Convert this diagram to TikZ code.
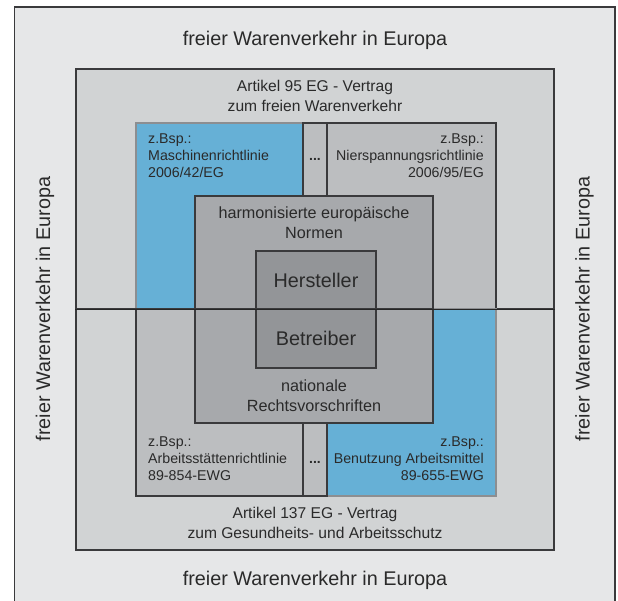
\documentclass[tikz,border=0pt]{standalone}
\usepackage{fontspec}
\setmainfont{Liberation Sans}
\definecolor{rand}{HTML}{3A3A3C}
\definecolor{blaurand}{HTML}{8C8E91}
\definecolor{hellgrau}{HTML}{E6E7E8}
\definecolor{grau1}{HTML}{D1D3D4}
\definecolor{grau2}{HTML}{BCBEC0}
\definecolor{grau3}{HTML}{A7A9AC}
\definecolor{grau4}{HTML}{939598}
\definecolor{blau}{HTML}{66B0D6}
\definecolor{tinte}{HTML}{2A2A2A}

\begin{document}
\begin{tikzpicture}
      [   x=1pt,y=-1pt,
          feld/.style={draw=rand,fill=#1,line width=1.1pt,rectangle,inner sep=0pt},
          blaufeld/.style={feld=blau,draw=blaurand},
          schrift/.style 2 args={text=tinte,inner sep=0pt,font=\fontsize{#1}{#2}\selectfont},
          trenn/.style={draw=black!85,line width=1.3pt},
      ]
          \useasboundingbox (0,0) rectangle (618,601);
          % Rahmen von aussen nach innen
          \node[feld=hellgrau,line width=1.4pt,minimum width=600.5pt,minimum height=620pt] (europa) at (314.75,317) {};
          \node[feld=grau1,minimum width=478pt,minimum height=240pt] (art95) at (315,189) {};
          \node[feld=grau1,minimum width=478pt,minimum height=241pt] (art137) at (315,429.5) {};
          \node[blaufeld,minimum width=167pt,minimum height=186pt] (maschinen) at (219.5,216) {};
          \node[feld=grau2,minimum width=169pt,minimum height=186pt] (nsp) at (411.5,216) {};
          \node[feld=grau2,minimum width=167pt,minimum height=187pt] (arbst) at (219.5,402.5) {};
          \node[blaufeld,minimum width=169pt,minimum height=187pt] (arbmittel) at (411.5,402.5) {};
          \foreach \y/\h/\p [count=\i] in {216/186/159,402.5/187/462}
          {   \node[feld=grau2,minimum width=24pt,minimum height=\h pt] (luecke-\i) at (315,\y) {};
              \node[schrift={14}{17}] (punkte-\i) at (315,\p) {\bfseries...};
          }
          \node[feld=grau3,minimum width=238pt,minimum height=113pt] (normen) at (314,252.5) {};
          \node[feld=grau3,minimum width=238pt,minimum height=114pt] (national) at (314,366) {};
          \node[feld=grau4,minimum width=120pt,minimum height=58pt,schrift={19.8}{24}] (hersteller) at (316,280) {Hersteller};
          \node[feld=grau4,minimum width=120pt,minimum height=59pt,schrift={19.8}{24}] (betreiber) at (316,338.5) {Betreiber};
          \draw[trenn] (art95.south west) -- (art95.south east);

          % Beschriftungen
          \node[schrift={19.8}{24}] (eu-oben) at (315,40) {freier Warenverkehr in Europa};
          \node[schrift={19.8}{24}] (eu-unten) at (315,580) {freier Warenverkehr in Europa};
          \node[schrift={19.8}{24},rotate=90] (eu-links) at (45,309) {freier Warenverkehr in Europa};
          \node[schrift={19.8}{24},rotate=90] (eu-rechts) at (584.5,309) {freier Warenverkehr in Europa};
          \node[schrift={15.6}{20},align=center] (t-art95) at (315,96) {Artikel 95 EG - Vertrag\\zum freien Warenverkehr};
          \node[schrift={15.6}{20},align=center] (t-art137) at (315,523) {Artikel 137 EG - Vertrag\\zum Gesundheits- und Arbeitsschutz};
          \node[schrift={16.2}{20},align=center] (t-normen) at (314,223) {harmonisierte europäische\\Normen};
          \node[schrift={16.2}{20},align=center] (t-national) at (314,396) {nationale\\Rechtsvorschriften};
          \node[schrift={14.2}{17},align=left,anchor=west] (t-maschinen) at (148,156) {z.Bsp.:\\Maschinenrichtlinie\\2006/42/EG};
          \node[schrift={14.2}{17},align=right,anchor=east] (t-nsp) at (484,156) {z.Bsp.:\\Nierspannungsrichtlinie\\2006/95/EG};
          \node[schrift={14.2}{17},align=left,anchor=west] (t-arbst) at (148,459) {z.Bsp.:\\Arbeitsstättenrichtlinie\\89-854-EWG};
          \node[schrift={14.2}{17},align=right,anchor=east] (t-arbmittel) at (484,459) {z.Bsp.:\\Benutzung Arbeitsmittel\\89-655-EWG};
    \end{tikzpicture}
\end{document}
